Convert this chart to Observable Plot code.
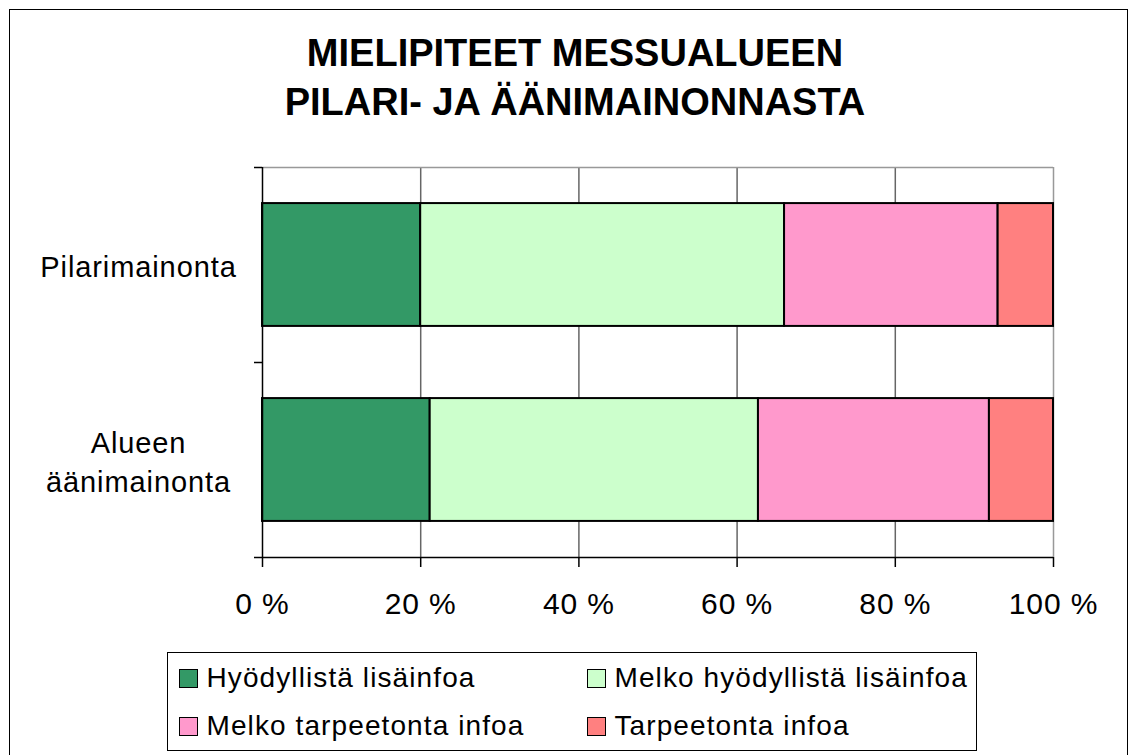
<!DOCTYPE html>
<html>
<head>
<meta charset="utf-8">
<script src="https://cdn.jsdelivr.net/npm/d3@7"></script>
<script src="https://cdn.jsdelivr.net/npm/@observablehq/plot@0.6"></script>
<style>
html, body { margin: 0; padding: 0; background: #fff; }
#wrap { position: relative; width: 1140px; height: 755px; overflow: hidden; background: #fff; font-family: "Liberation Sans", Arial, sans-serif; color: #000; }
#outer { position: absolute; left: 9px; top: 9px; width: 1119px; height: 800px; border: 1.5px solid #000; box-sizing: border-box; }
#title { position: absolute; left: 10px; width: 1130px; top: 29px; text-align: center; font-weight: bold; font-size: 38px; line-height: 49px; }
#chart { position: absolute; left: 0; top: 130px; }
#chart svg text { letter-spacing: 0.9px; }
#legend { position: absolute; left: 167px; top: 652px; width: 810px; height: 99px; border: 1.5px solid #000; box-sizing: border-box; background: #fff; }
.item { position: absolute; display: flex; align-items: center; font-size: 28px; line-height: 30px; letter-spacing: 1.1px; white-space: nowrap; }
.sw { width: 19px; height: 19px; border: 1.5px solid #000; box-sizing: border-box; margin-right: 9px; flex: none; }
</style>
</head>
<body>
<div id="wrap">
  <div id="outer"></div>
  <div id="title"></div>
  <div id="chart"></div>
  <div id="legend"></div>
</div>
<script>
// ---- data ----
const titleLines = ["MIELIPITEET MESSUALUEEN", "PILARI- JA ÄÄNIMAINONNASTA"];
const categories = ["Pilarimainonta", "Alueen äänimainonta"];
const categoryLabels = ["Pilarimainonta", "Alueen\näänimainonta"];
const answers = ["Hyödyllistä lisäinfoa", "Melko hyödyllistä lisäinfoa", "Melko tarpeetonta infoa", "Tarpeetonta infoa"];
const colors = ["#339966", "#CCFFCC", "#FF99CC", "#FF8080"];
const pilariValues = [20.0, 46.0, 27.0, 7.0];
const alueenValues = [21.2, 41.5, 29.2, 8.1];
const xTicks = [0, 20, 40, 60, 80, 100];
const xTickLabels = ["0 %", "20 %", "40 %", "60 %", "80 %", "100 %"];
const gridValues = [20, 40, 60, 80];
const categoryBounds = [0, 1, 2];

// ---- build table ----
const series = [pilariValues, alueenValues];
const rows = [];
series.forEach((vals, ci) => {
  let acc = 0;
  vals.forEach((v, ai) => {
    rows.push({category: categories[ci], index: ci, answer: answers[ai], x1: acc, x2: acc + v});
    acc += v;
  });
});

// title
document.getElementById("title").innerHTML = titleLines.map(t => `<div>${t}</div>`).join("");

const chart = Plot.plot({
  width: 1140,
  height: 510,
  marginTop: 37,
  marginBottom: 83,
  marginLeft: 262,
  marginRight: 87,
  style: {fontFamily: '"Liberation Sans", Arial, sans-serif', fontSize: "30px", color: "#000", background: "transparent", overflow: "visible"},
  x: {domain: [0, 100], label: null},
  y: {domain: [0, 2], reverse: true, label: null},
  color: {domain: answers, range: colors},
  marks: [
    Plot.ruleX(gridValues, {stroke: "#666", strokeWidth: 1.5}),
    Plot.ruleY([0], {stroke: "#999", strokeWidth: 1.5}),
    Plot.ruleX([100], {stroke: "#999", strokeWidth: 1.5}),
    Plot.rect(rows, {x1: "x1", x2: "x2", y1: d => d.index + 0.185, y2: d => d.index + 0.815, fill: "answer", stroke: "#000", strokeWidth: 2}),
    Plot.ruleY([2], {stroke: "#000", strokeWidth: 1.5}),
    Plot.ruleX([0], {stroke: "#000", strokeWidth: 1.5}),
    Plot.axisX({ticks: xTicks, tickFormat: d => xTickLabels[xTicks.indexOf(d)], tickSize: 10, tickPadding: 25, fontSize: 30, strokeWidth: 1.5}),
    Plot.axisY({ticks: categoryBounds, tickFormat: () => "", tickSize: 8, strokeWidth: 1.5}),
    Plot.text(categoryLabels, {y: (d, i) => i + 0.5, frameAnchor: "left", dx: -124, textAnchor: "middle", lineAnchor: "middle", lineHeight: 1.33, fontSize: 29})
  ]
});
document.getElementById("chart").appendChild(chart);

// legend
const legend = document.getElementById("legend");
const pos = [[10.5, 10], [418.5, 10], [10.5, 58], [418.5, 58]];
answers.forEach((a, i) => {
  const it = document.createElement("div");
  it.className = "item";
  it.style.left = pos[i][0] + "px";
  it.style.top = pos[i][1] + "px";
  it.innerHTML = `<span class="sw" style="background:${colors[i]}"></span><span>${a}</span>`;
  legend.appendChild(it);
});
</script>
</body>
</html>
